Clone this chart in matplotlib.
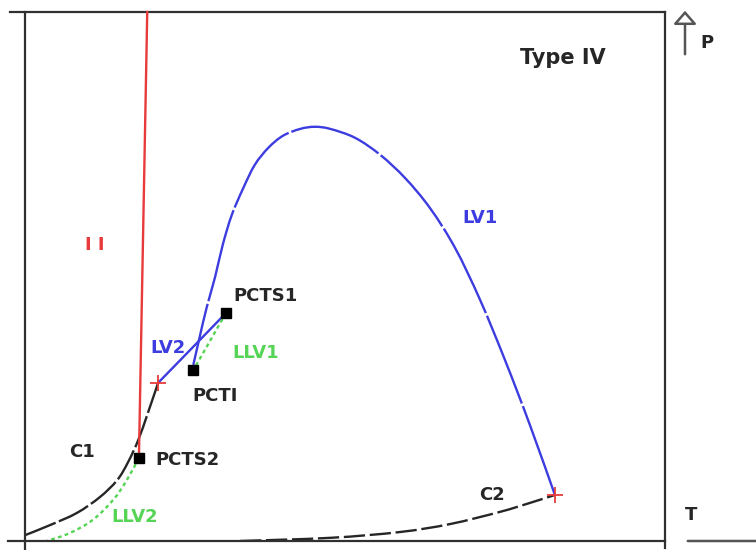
import numpy as np
import matplotlib.pyplot as plt
from matplotlib.path import Path
from matplotlib.patches import PathPatch

plt.rcParams['font.family'] = ['DejaVu Sans']
plt.rcParams['font.weight'] = 'bold'

# schematic P-T projection, arbitrary units (T and P both 0..100)
c1_T = [0.0, 3.9, 8.1, 11.7, 14.4, 16.1, 17.7, 19.2, 20.8]
c1_P = [1.1, 3.0, 5.3, 8.3, 11.5, 14.9, 19.1, 24.2, 29.9]

c2_T = [33.6, 47.7, 58.6, 66.4, 74.2, 78.9, 82.8]
c2_P = [0.0, 0.6, 1.7, 3.2, 5.5, 7.2, 8.7]

lv1_T = [82.8, 78.9, 75.0, 71.1, 67.2, 63.3, 59.4, 55.5, 51.6, 47.7, 45.3,
         43.0, 40.3, 38.0, 35.9, 34.1, 32.3, 30.9, 29.7, 28.4, 27.3, 26.3]
lv1_P = [8.7, 21.9, 34.2, 45.6, 55.4, 62.9, 68.6, 73.0, 76.2, 77.9, 78.3,
         77.9, 76.6, 74.3, 71.1, 66.7, 61.6, 56.0, 49.9, 44.2, 38.6, 33.3]

lv2_T = [31.4, 26.6, 20.8]
lv2_P = [43.1, 37.1, 29.9]

llv1_T = [31.4, 26.3]
llv1_P = [43.1, 32.3]

llv2_T = [17.8, 15.9, 13.8, 10.6, 7.0, 3.4]
llv2_P = [15.7, 11.5, 7.8, 4.0, 1.5, 0.0]

ll_T = [17.8, 19.1]
ll_P = [15.7, 100.0]

crit_T = [20.8, 82.8]
crit_P = [29.9, 8.7]

pct_names = ['PCTS1', 'PCTI', 'PCTS2']
pct_T = [31.4, 26.3, 17.8]
pct_P = [43.1, 32.3, 15.7]

red = '#e83a3a'
blue = '#3c3ce0'
green = '#55d455'
black = '#262626'


def smooth_curve(ax, xs, ys, **kw):
    # catmull-rom through the points, drawn as cubic bezier segments
    p = np.column_stack([xs, ys]).astype(float)
    ext = np.vstack([p[0], p, p[-1]])
    verts = [p[0]]
    codes = [Path.MOVETO]
    for i in range(len(p) - 1):
        a, b, c, d = ext[i], ext[i + 1], ext[i + 2], ext[i + 3]
        verts += [b + (c - a) / 6, c - (d - b) / 6, c]
        codes += [Path.CURVE4] * 3
    ax.add_patch(PathPatch(Path(verts, codes), fill=False, **kw))


fig = plt.figure(figsize=(7.56, 5.5), dpi=100)
ax = fig.add_axes([25 / 756, 9 / 550, 640 / 756, 529 / 550])
ax.set_xlim(0, 100)
ax.set_ylim(0, 100)
ax.set_axis_off()

# frame, with the little overhangs at the corners
fr = dict(color='#303030', lw=1.6, transform=ax.transAxes, clip_on=False)
ax.plot([-0.024, 1], [1, 1], **fr)
ax.plot([-0.027, 1], [0, 0], **fr)
ax.plot([0, 0], [1, -0.017], **fr)
ax.plot([1, 1], [1, -0.013], **fr)

smooth_curve(ax, c1_T, c1_P, ec=black, lw=1.7, ls=(0, (14, 1.5)))
smooth_curve(ax, c2_T, c2_P, ec=black, lw=1.7, ls=(0, (9, 2)))
smooth_curve(ax, lv1_T, lv1_P, ec=blue, lw=1.7, ls=(0, (40, 1.2)))
smooth_curve(ax, lv2_T, lv2_P, ec=blue, lw=1.7)
ax.plot(llv1_T, llv1_P, color=green, lw=1.7, ls=(0, (1.6, 1.4)))
smooth_curve(ax, llv2_T, llv2_P, ec=green, lw=1.7, ls=(0, (1.6, 1.4)))
ax.plot(ll_T, ll_P, color=red, lw=1.7, clip_on=False)

ax.plot(crit_T, crit_P, '+', color=red, ms=11, mew=1.3)
ax.plot(pct_T, pct_P, 's', color='black', ms=6.5)

fs = 13
ax.text(84.1, 91.3, 'Type IV', fontsize=15, ha='center', va='center', color=black)
ax.text(71.1, 61.1, 'LV1', fontsize=fs, ha='center', va='center', color=blue)
ax.text(22.3, 36.5, 'LV2', fontsize=fs, ha='center', va='center', color=blue)
ax.text(36.1, 35.5, 'LLV1', fontsize=fs, ha='center', va='center', color=green)
ax.text(17.2, 4.5, 'LLV2', fontsize=fs, ha='center', va='center', color=green)
ax.text(8.9, 16.8, 'C1', fontsize=fs, ha='center', va='center', color=black)
ax.text(73.0, 8.7, 'C2', fontsize=fs, ha='center', va='center', color=black)
ax.text(10.9, 56.0, 'I I', fontsize=fs, ha='center', va='center', color=red)
ax.text(32.5, 46.3, pct_names[0], fontsize=fs, ha='left', va='center', color=black)
ax.text(29.7, 27.4, pct_names[1], fontsize=fs, ha='center', va='center', color=black)
ax.text(20.3, 15.3, pct_names[2], fontsize=fs, ha='left', va='center', color=black)

# P and T axis arrows outside the frame
arrow = dict(arrowstyle='-|>,head_length=0.4,head_width=0.35', mutation_scale=20,
             fc='white', ec='#555555', lw=1.8)
ax.annotate('', xy=(685 / 756, 542 / 550), xytext=(685 / 756, 493 / 550),
            xycoords='figure fraction', textcoords='figure fraction',
            arrowprops=arrow)
fig.text(707 / 756, 507 / 550, 'P', fontsize=fs, ha='center', va='center', color=black)
ax.annotate('', xy=(775 / 756, 9 / 550), xytext=(685 / 756, 9 / 550),
            xycoords='figure fraction', textcoords='figure fraction',
            arrowprops=arrow)
fig.text(691 / 756, 35 / 550, 'T', fontsize=fs, ha='center', va='center', color=black)

fig.savefig('out.png', dpi=100, facecolor='white')
